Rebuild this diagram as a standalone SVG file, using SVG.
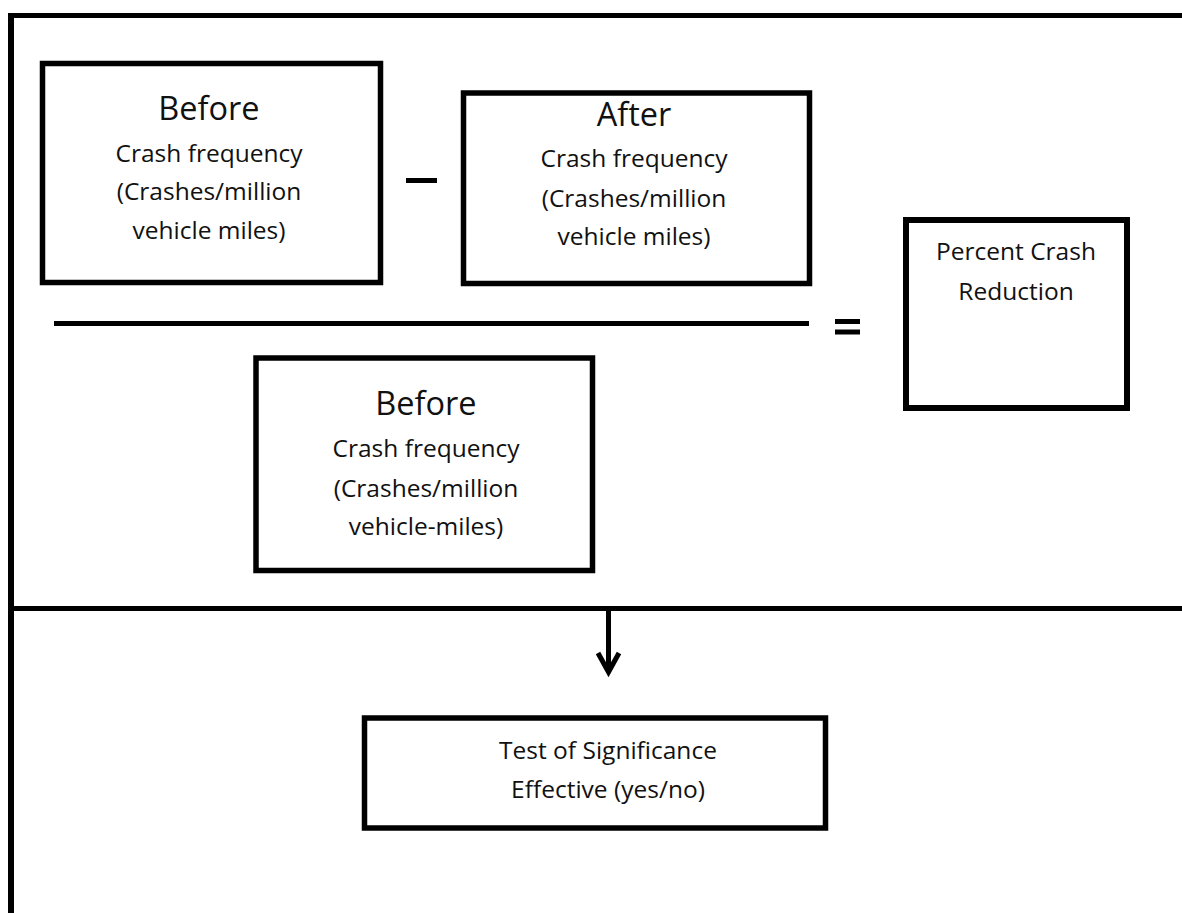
<svg xmlns="http://www.w3.org/2000/svg" width="1182" height="913" viewBox="0 0 1182 913">
<style>
.box{fill:#fff;stroke:#000;stroke-width:5.5}
.ln{stroke:#000;stroke-width:5;fill:none}
.h{font-family:"Open Sans","Liberation Sans",sans-serif;font-size:32.5px;fill:#111;text-anchor:middle}
.t{font-family:"Open Sans","Liberation Sans",sans-serif;font-size:24.5px;fill:#111;text-anchor:middle}
</style>
<rect width="1182" height="913" fill="#fff"/>
<g id="frame">
<line class="ln" x1="8" y1="15.5" x2="1182" y2="15.5"/>
<line class="ln" x1="11" y1="13" x2="11" y2="913" style="stroke-width:6"/>
<line class="ln" x1="8" y1="608.5" x2="1182" y2="608.5"/>
</g>
<g id="before-top">
<rect class="box" x="42.5" y="63.5" width="338" height="219"/>
<text class="h" x="209" y="120">Before</text>
<text class="t" x="209" y="162">Crash frequency</text>
<text class="t" x="209" y="200">(Crashes/million</text>
<text class="t" x="209" y="239">vehicle miles)</text>
</g>
<g id="minus">
<line class="ln" x1="406" y1="180.5" x2="437" y2="180.5"/>
</g>
<g id="after">
<rect class="box" x="463.5" y="93" width="346" height="190.5"/>
<text class="h" x="634" y="126">After</text>
<text class="t" x="634" y="167">Crash frequency</text>
<text class="t" x="634" y="207">(Crashes/million</text>
<text class="t" x="634" y="245">vehicle miles)</text>
</g>
<g id="fraction">
<line class="ln" x1="54" y1="323.5" x2="809" y2="323.5"/>
</g>
<g id="equals">
<line class="ln" x1="835" y1="321.5" x2="860" y2="321.5"/>
<line class="ln" x1="835" y1="332" x2="860" y2="332"/>
</g>
<g id="before-bottom">
<rect class="box" x="256" y="358" width="336.5" height="212.5"/>
<text class="h" x="426" y="415">Before</text>
<text class="t" x="426" y="457">Crash frequency</text>
<text class="t" x="426" y="497">(Crashes/million</text>
<text class="t" x="426" y="535">vehicle-miles)</text>
</g>
<g id="percent">
<rect class="box" x="906" y="220" width="221" height="188" style="stroke-width:6"/>
<text class="t" x="1016" y="260">Percent Crash</text>
<text class="t" x="1016" y="300">Reduction</text>
</g>
<g id="connectors">
<line class="ln" x1="608.5" y1="608" x2="608.5" y2="670"/>
<polyline class="ln" points="598,653 608.5,672 619,653" stroke-linejoin="miter"/>
</g>
<g id="test">
<rect class="box" x="364.5" y="718" width="461" height="110"/>
<text class="t" x="608" y="759">Test of Significance</text>
<text class="t" x="608" y="798">Effective (yes/no)</text>
</g>
</svg>
